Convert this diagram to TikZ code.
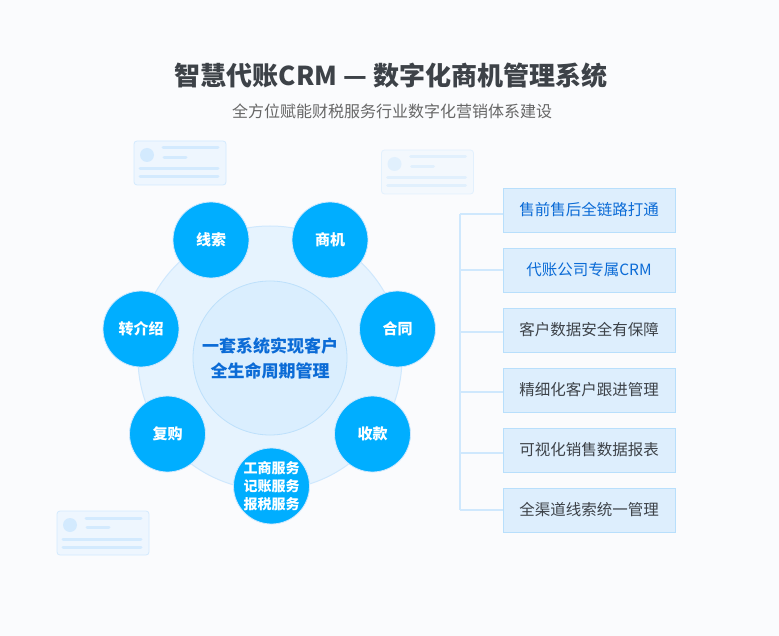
\documentclass[tikz,border=0pt]{standalone}
\usepackage{fontspec}
\setmainfont{Noto Sans CJK SC}
\usetikzlibrary{calc}

\definecolor{pagebg}{HTML}{FAFBFD}
\definecolor{ringfill}{HTML}{E6F3FE}
\definecolor{ringline}{HTML}{CFE8FD}
\definecolor{corefill}{HTML}{DAEEFE}
\definecolor{coreline}{HTML}{BDE0FB}
\definecolor{satfill}{HTML}{00AEFF}
\definecolor{boxfill}{HTML}{DDEEFD}
\definecolor{boxline}{HTML}{B8DFFC}
\definecolor{bluetext}{HTML}{0B6BD6}
\definecolor{darktext}{HTML}{3D4248}
\definecolor{cardfill}{HTML}{EEF6FE}
\definecolor{cardbar}{HTML}{D3EAFE}

\tikzset{
	satnode/.style={circle, draw=ringline, line width=0.8pt, fill=satfill, minimum size=76pt, inner sep=0pt, text=white, font=\fontsize{15}{18}\selectfont\bfseries, align=center},
	itembox/.style={rectangle, draw=boxline, line width=0.9pt, fill=boxfill, minimum width=172pt, minimum height=44pt, inner sep=0pt, font=\fontsize{15.5}{18}\selectfont, text=darktext},
	hotbox/.style={itembox, text=bluetext},
	branch/.style={draw=ringline, line width=1.6pt},
	cardbody/.style={draw=cardbar, line width=0.8pt, fill=cardfill, rounded corners=3pt},
	cardbarline/.style={draw=cardbar, line width=3pt, line cap=round},
	pics/infocard/.style={code={
		\draw[cardbody] (0,0) rectangle (92,44);
		\fill[cardbar] (13,14) circle (7);
		\draw[cardbarline] (29,7) -- (84,7);
		\draw[cardbarline] (30,16.5) -- (52,16.5);
		\draw[cardbarline] (6,28) -- (84,28);
		\draw[cardbarline] (6,36) -- (84,36);
	}}
}

\begin{document}
\begin{tikzpicture}[x=1pt, y=-1pt]
	\useasboundingbox[fill=pagebg] (0,0) rectangle (779,636);

	% Titles
	\node[font=\fontsize{26}{30}\selectfont\bfseries, text=darktext] (title) at (391,76) {智慧代账CRM — 数字化商机管理系统};
	\node[font=\fontsize{16}{20}\selectfont, text=black!60] (subtitle) at (392,111) {全方位赋能财税服务行业数字化营销体系建设};

	% Faint cards
	\pic at (134,141) {infocard};
	\begin{scope}[opacity=0.55]
		\pic at (381.5,150) {infocard};
	\end{scope}
	\pic at (57,511) {infocard};

	% Rings
	\node[circle, draw=ringline, line width=1pt, fill=ringfill, minimum size=264pt, inner sep=0pt] (ring) at (270,358) {};
	\node[circle, draw=coreline, line width=0.8pt, fill=corefill, minimum size=154pt, inner sep=0pt, text=bluetext, align=center, font=\fontsize{17}{25}\selectfont\bfseries] (core) at (270,358) {一套系统实现客户\\全生命周期管理};

	% Satellites
	\foreach \name/\x/\y/\txt in {lead/211/240/线索, chance/330/240/商机, contract/397.5/329/合同, pay/372.5/434/收款, repeat/167.5/434/复购, refer/141/329/转介绍} {
		\node[satnode] (\name) at (\x,\y) {\txt};
	}
	\node[satnode, font=\fontsize{14}{18}\selectfont\bfseries] (service) at (271.5,486) {工商服务\\记账服务\\报税服务};

	% Right column
	\foreach \n/\y/\sty/\txt in {1/210/hotbox/售前售后全链路打通, 2/270/hotbox/代账公司专属CRM, 3/330/itembox/客户数据安全有保障, 4/390/itembox/精细化客户跟进管理, 5/450/itembox/可视化销售数据报表, 6/510/itembox/全渠道线索统一管理} {
		\node[\sty] (box\n) at (589,\y) {\txt};
	}

	% Spine and branches
	\foreach \n/\y in {1/214, 2/270, 3/332, 4/392, 5/453, 6/510} {
		\coordinate (tap\n) at (460,\y);
		\draw[branch] (tap\n) -- (box\n.west |- tap\n);
	}
	\draw[branch, line cap=square] (tap1) -- (tap6);
\end{tikzpicture}
\end{document}
